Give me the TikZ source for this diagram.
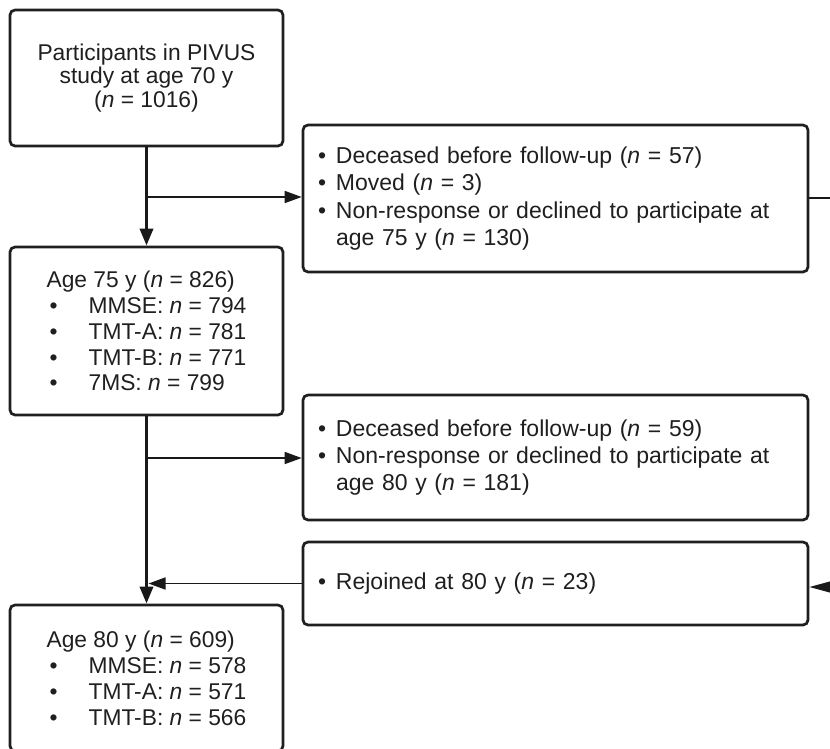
\documentclass[tikz,border=0pt]{standalone}
\usepackage{fontspec}
\setmainfont{Liberation Sans}
\usetikzlibrary{arrows.meta}
\begin{document}
\begin{tikzpicture}[x=1pt,y=-1pt,
  box/.style={draw=black!88, line width=2.7pt, rounded corners=5pt, inner sep=0pt, text=black!88},
  leftbox/.style={box, minimum width=273pt, align=left, font=\fontsize{22.8}{25.9}\selectfont},
  rightbox/.style={box, minimum width=505pt, text width=475pt, align=left, font=\fontsize{23}{27.3}\selectfont},
  mainline/.style={draw=black!90, line width=3.4pt, -{Triangle[length=17pt,width=13pt]}},
  branch/.style={draw=black!90, line width=1.6pt},
  branchtip/.style={branch, -{Triangle[length=17pt,width=12pt]}},
  edgetip/.style={branch, -{Triangle[length=23pt,width=12pt]}}]
\useasboundingbox (0,0) rectangle (830,748);
\newcommand{\lbul}{\hspace*{3pt}\makebox[39pt][l]{•}}
\newcommand{\rbul}{\makebox[18pt][l]{•}}
\newcommand{\rind}{\hspace*{18pt}}

\node[leftbox, minimum height=136pt, align=center, font=\fontsize{22.8}{23.5}\selectfont] (p70) at (146.5,78)
  {Participants in PIVUS\\study at age 70 y\\(\textit{n} = 1016)};
\node[rightbox, minimum height=147pt] (ex75) at (555.5,198.5)
  {\rbul Deceased before follow-up (\textit{n} = 57)\\
   \rbul Moved (\textit{n} = 3)\\
   \rbul Non-response or declined to participate at\\
   \rind age 75 y (\textit{n} = 130)};
\node[leftbox, minimum height=168pt] (a75) at (146.5,331)
  {Age 75 y (\textit{n} = 826)\\
   \lbul MMSE: \textit{n} = 794\\
   \lbul TMT-A: \textit{n} = 781\\
   \lbul TMT-B: \textit{n} = 771\\
   \lbul 7MS: \textit{n} = 799};
\node[rightbox, minimum height=125pt] (ex80) at (555.5,457.5)
  {\rbul Deceased before follow-up (\textit{n} = 59)\\
   \rbul Non-response or declined to participate at\\
   \rind age 80 y (\textit{n} = 181)};
\node[rightbox, minimum height=83pt] (rej) at (555.5,583.5)
  {\rbul Rejoined at 80 y (\textit{n} = 23)};
\node[leftbox, minimum height=146pt] (a80) at (146.5,678)
  {Age 80 y (\textit{n} = 609)\\
   \lbul MMSE: \textit{n} = 578\\
   \lbul TMT-A: \textit{n} = 571\\
   \lbul TMT-B: \textit{n} = 566};

\coordinate (j1) at (146.5,197);
\coordinate (j2) at (146.5,458);
\coordinate (j3) at (148.5,583.5);
\coordinate (r1) at (832,198);
\coordinate (r2) at (832,587);

\draw[mainline] (p70.south) -- (a75.north);
\draw[mainline] (a75.south) -- (a80.north);
\draw[branchtip] (j1) -- (j1 -| ex75.west);
\draw[branchtip] (j2) -- (j2 -| ex80.west);
\draw[branchtip] (rej.west) -- (j3);
\draw[branch] (r1 -| ex75.east) -- (r1);
\draw[edgetip] (r2) -- (r2 -| rej.east);
\end{tikzpicture}
\end{document}
